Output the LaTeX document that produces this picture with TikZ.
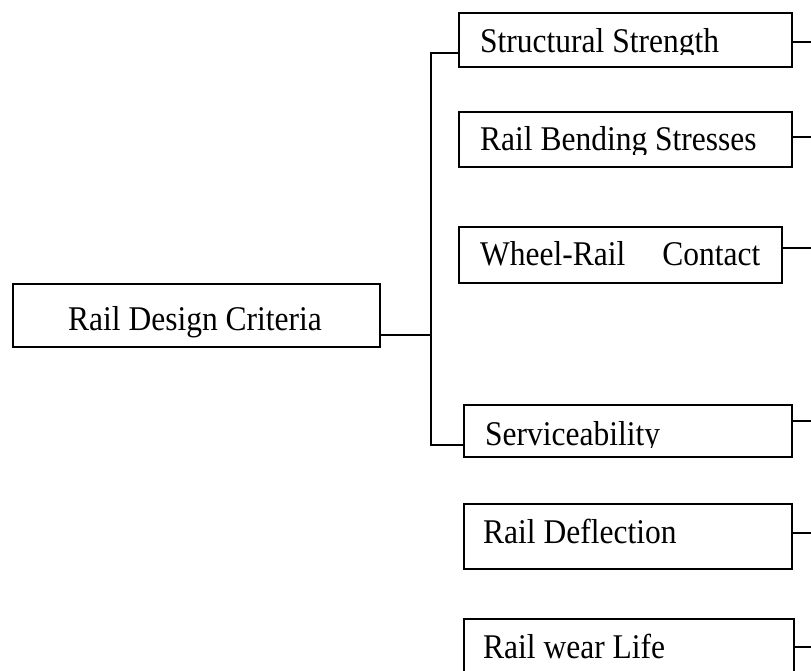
\documentclass[tikz,border=0pt]{standalone}
\usepackage{graphicx}
\usepackage{fontspec}
\setmainfont{Liberation Serif}
\begin{document}
\begin{tikzpicture}[x=1pt,y=-1pt,
  box/.style={draw, line width=1.8pt, inner sep=0pt, anchor=north west},
  lbl/.style={anchor=base west, inner sep=0pt, font=\fontsize{31.5}{36}\selectfont},
  conn/.style={draw, line width=1.8pt}]
\clip (0,0) rectangle (811,670);
\useasboundingbox (0,0) rectangle (811,670);

% boxes
\node[box, minimum width=367pt, minimum height=63pt] (root) at (12,283) {};
\node[box, minimum width=333pt, minimum height=54pt] (b1) at (458,12) {};
\node[box, minimum width=333pt, minimum height=55pt] (b2) at (458,111) {};
\node[box, minimum width=323pt, minimum height=56pt] (b3) at (458,226) {};
\node[box, minimum width=328pt, minimum height=52pt] (b4) at (463,404) {};
\node[box, minimum width=328pt, minimum height=65pt] (b5) at (463,503) {};
\node[box, minimum width=330pt, minimum height=80pt] (b6) at (463,618) {};

% labels
\node[lbl] (t0) at (68,330) {\scalebox{1}[1.1]{Rail Design Criteria}};
\begin{scope}
  \clip (458,12) rectangle (791,54);
  \node[lbl] (t1) at (480,52) {\scalebox{1}[1.1]{Structural Strength}};
\end{scope}
\begin{scope}
  \clip (458,111) rectangle (791,154);
  \node[lbl] (t2) at (480,150) {\scalebox{1}[1.1]{Rail Bending Stresses}};
\end{scope}
\node[lbl] (t3) at (480,265) {\scalebox{1}[1.1]{Wheel-Rail\hspace{29pt} Contact}};
\begin{scope}
  \clip (463,404) rectangle (791,447);
  \node[lbl] (t4) at (485,445) {\scalebox{1}[1.1]{Serviceability}};
\end{scope}
\node[lbl] (t5) at (483,543) {\scalebox{1}[1.1]{Rail Deflection}};
\node[lbl] (t6) at (483,658) {\scalebox{1}[1.1]{Rail wear Life}};

% connectors
\coordinate (bus) at (431,335);
\path[conn] (root.east |- bus) -- (bus);
\path[conn] (b1.west |- 0,53) -| (431,445) -- (b4.west |- 0,445);

\coordinate (e1) at (811,42);
\coordinate (e2) at (811,137);
\coordinate (e3) at (811,248);
\coordinate (e4) at (811,421);
\coordinate (e5) at (811,533);
\coordinate (e6) at (811,647);
\path[conn] (b1.east |- e1) -- (e1);
\path[conn] (b2.east |- e2) -- (e2);
\path[conn] (b3.east |- e3) -- (e3);
\path[conn] (b4.east |- e4) -- (e4);
\path[conn] (b5.east |- e5) -- (e5);
\path[conn] (b6.east |- e6) -- (e6);
\end{tikzpicture}
\end{document}
